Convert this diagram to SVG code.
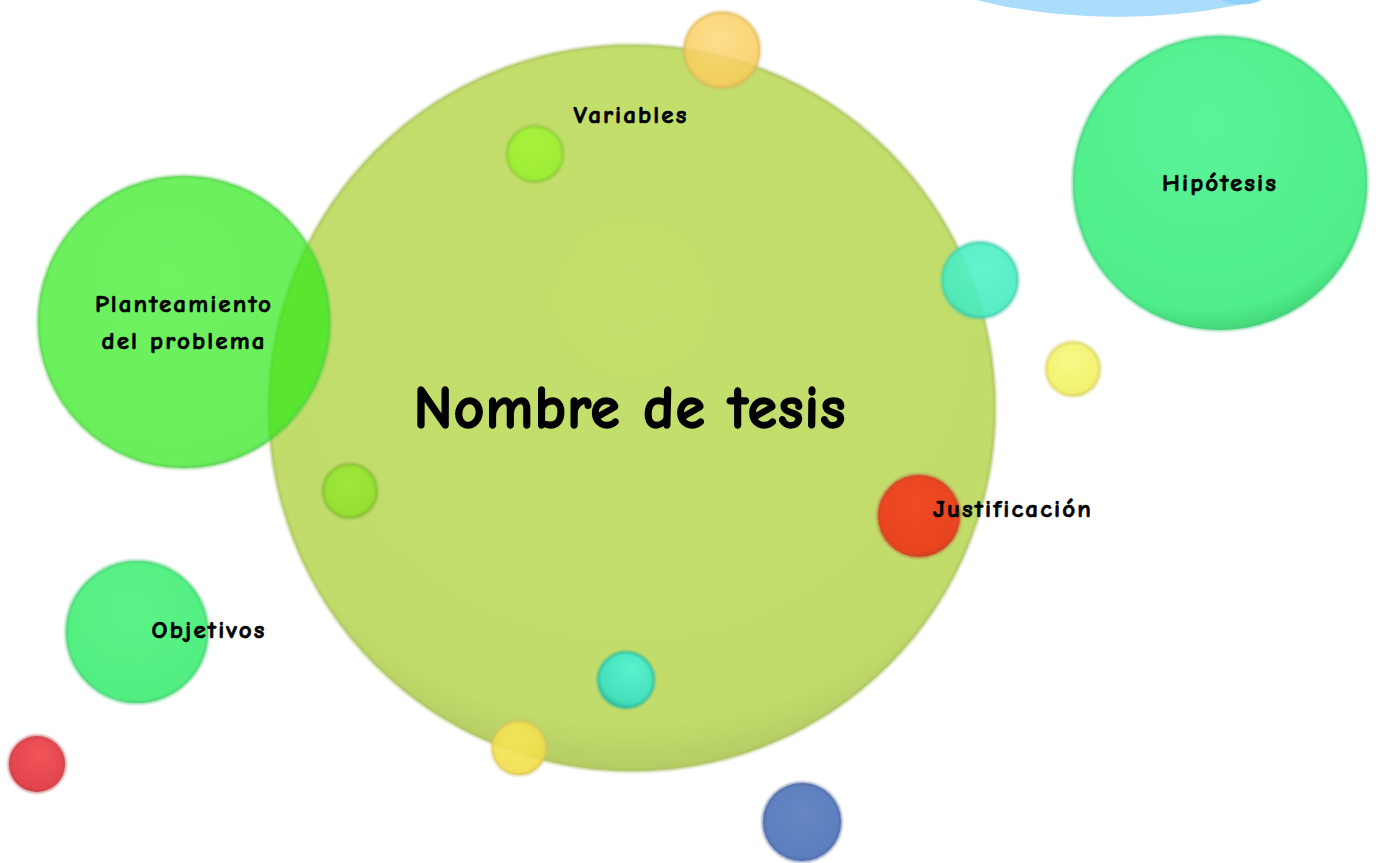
<svg xmlns="http://www.w3.org/2000/svg" width="1376" height="863" viewBox="0 0 1376 863">
<defs>
<style>
.lbl{font-family:"Comic Neue","DejaVu Sans",sans-serif;font-weight:bold;fill:#000;stroke:#000;text-anchor:middle}
.s{font-size:25px;letter-spacing:2.1px;stroke-width:0.7px}
.b{font-size:60px;letter-spacing:1px;stroke-width:1.4px}
.rim{fill:none;stroke-width:3;filter:url(#soft)}
</style>
<filter id="soft" x="-20%" y="-20%" width="140%" height="140%"><feGaussianBlur stdDeviation="1.2"/></filter>
<radialGradient id="gBig" cx="0.5" cy="0.35" r="0.65"><stop offset="0" stop-color="#c3df6c"/><stop offset="0.9" stop-color="#c1dc6a"/><stop offset="1" stop-color="#b4cc64"/></radialGradient>
<radialGradient id="gHip" cx="0.45" cy="0.3" r="0.7"><stop offset="0" stop-color="#5af498"/><stop offset="0.9" stop-color="#50ee8a"/><stop offset="1" stop-color="#45d97a"/></radialGradient>
<radialGradient id="gPl" cx="0.45" cy="0.35" r="0.7"><stop offset="0" stop-color="#33ec1e"/><stop offset="0.9" stop-color="#2be816"/><stop offset="1" stop-color="#28c818"/></radialGradient>
<radialGradient id="gObj" cx="0.45" cy="0.35" r="0.7"><stop offset="0" stop-color="#5cf488"/><stop offset="0.9" stop-color="#52ee80"/><stop offset="1" stop-color="#46d870"/></radialGradient>
<radialGradient id="gOr" cx="0.45" cy="0.35" r="0.7"><stop offset="0" stop-color="#fcd878"/><stop offset="0.85" stop-color="#f8cc5a"/><stop offset="1" stop-color="#e0b850"/></radialGradient>
<radialGradient id="gLime" cx="0.45" cy="0.35" r="0.7"><stop offset="0" stop-color="#a8f23e"/><stop offset="0.85" stop-color="#9eec36"/><stop offset="1" stop-color="#88d030"/></radialGradient>
<radialGradient id="gLime2" cx="0.45" cy="0.35" r="0.7"><stop offset="0" stop-color="#9ee83a"/><stop offset="0.85" stop-color="#94e032"/><stop offset="1" stop-color="#80c42c"/></radialGradient>
<radialGradient id="gCy" cx="0.55" cy="0.35" r="0.7"><stop offset="0" stop-color="#52f4c8"/><stop offset="0.85" stop-color="#46eabe"/><stop offset="1" stop-color="#38cca4"/></radialGradient>
<radialGradient id="gCy2" cx="0.6" cy="0.3" r="0.7"><stop offset="0" stop-color="#58f2cc"/><stop offset="0.85" stop-color="#44e0bc"/><stop offset="1" stop-color="#36c8a4"/></radialGradient>
<radialGradient id="gYel" cx="0.45" cy="0.35" r="0.7"><stop offset="0" stop-color="#f8f888"/><stop offset="0.85" stop-color="#f2f270"/><stop offset="1" stop-color="#dede60"/></radialGradient>
<radialGradient id="gYel2" cx="0.45" cy="0.35" r="0.7"><stop offset="0" stop-color="#f6e65a"/><stop offset="0.85" stop-color="#f0de48"/><stop offset="1" stop-color="#d8c840"/></radialGradient>
<radialGradient id="gRed" cx="0.45" cy="0.35" r="0.7"><stop offset="0" stop-color="#ee4a24"/><stop offset="0.85" stop-color="#e8441e"/><stop offset="1" stop-color="#c8381a"/></radialGradient>
<radialGradient id="gRed2" cx="0.55" cy="0.35" r="0.7"><stop offset="0" stop-color="#f05458"/><stop offset="0.85" stop-color="#e2444c"/><stop offset="1" stop-color="#c03a40"/></radialGradient>
<radialGradient id="gBlue" cx="0.5" cy="0.4" r="0.7"><stop offset="0" stop-color="#6686c4"/><stop offset="0.85" stop-color="#5c7ebe"/><stop offset="1" stop-color="#4a68a4"/></radialGradient>
</defs>
<rect width="1376" height="863" fill="#ffffff"/>

<g id="sky">
<circle cx="1118" cy="-585" r="602" fill="#a9ddfb"/>
<path d="M1222,0 Q1242,9 1262,0 Z" fill="#8fd1fa"/>
</g>

<g id="nombre">
<circle cx="632" cy="408" r="363" fill="url(#gBig)"/>
<circle cx="632" cy="408" r="363" class="rim" stroke="#a9bf60" stroke-opacity="0.7"/>
<text class="lbl b" x="630" y="428">Nombre de tesis</text>
</g>

<g id="orange-top">
<circle cx="722" cy="50" r="38" fill="url(#gOr)" fill-opacity="0.85"/>
<circle cx="722" cy="50" r="38" class="rim" stroke="#d8b45a" stroke-opacity="0.6"/>
</g>

<g id="variables">
<circle cx="535" cy="154" r="28" fill="url(#gLime)"/>
<circle cx="535" cy="154" r="28" class="rim" stroke="#8cc83a" stroke-opacity="0.7"/>
<text class="lbl s" x="631" y="123">Variables</text>
</g>

<g id="planteamiento">
<circle cx="184" cy="322" r="146" fill="url(#gPl)" fill-opacity="0.7"/>
<circle cx="184" cy="322" r="146" class="rim" stroke="#58c850" stroke-opacity="0.6"/>
<text class="lbl s" x="184" y="312">Planteamiento</text>
<text class="lbl s" x="184" y="349">del problema</text>
</g>

<g id="hipotesis">
<circle cx="1220" cy="183" r="147" fill="url(#gHip)"/>
<circle cx="1220" cy="183" r="147" class="rim" stroke="#48c880" stroke-opacity="0.6"/>
<text class="lbl s" x="1220" y="191">Hipótesis</text>
</g>

<g id="cyan-right">
<circle cx="980" cy="280" r="38" fill="url(#gCy)" fill-opacity="0.9"/>
<circle cx="980" cy="280" r="38" class="rim" stroke="#3cc8a8" stroke-opacity="0.6"/>
</g>

<g id="yellow-right">
<circle cx="1073" cy="369" r="27" fill="url(#gYel)"/>
<circle cx="1073" cy="369" r="27" class="rim" stroke="#d8d468" stroke-opacity="0.7"/>
</g>

<g id="lime-left">
<circle cx="350" cy="491" r="27" fill="url(#gLime2)"/>
<circle cx="350" cy="491" r="27" class="rim" stroke="#84b838" stroke-opacity="0.7"/>
</g>

<g id="justificacion">
<circle cx="919" cy="516" r="41" fill="url(#gRed)"/>
<circle cx="919" cy="516" r="41" class="rim" stroke="#c05030" stroke-opacity="0.6"/>
<text class="lbl s" x="1013" y="517">Justificación</text>
</g>

<g id="objetivos">
<circle cx="137" cy="632" r="71" fill="url(#gObj)"/>
<circle cx="137" cy="632" r="71" class="rim" stroke="#48c878" stroke-opacity="0.6"/>
<text class="lbl s" x="209" y="638">Objetivos</text>
</g>

<g id="cyan-bottom">
<circle cx="626" cy="680" r="28" fill="url(#gCy2)"/>
<circle cx="626" cy="680" r="28" class="rim" stroke="#30b898" stroke-opacity="0.7"/>
</g>

<g id="yellow-bottom">
<circle cx="519" cy="748" r="27" fill="url(#gYel2)" fill-opacity="0.9"/>
<circle cx="519" cy="748" r="27" class="rim" stroke="#d8c060" stroke-opacity="0.6"/>
</g>

<g id="red-bottom-left">
<circle cx="37" cy="764" r="28" fill="url(#gRed2)"/>
<circle cx="37" cy="764" r="28" class="rim" stroke="#c04850" stroke-opacity="0.6"/>
</g>

<g id="blue-bottom">
<circle cx="802" cy="822" r="39" fill="url(#gBlue)"/>
<circle cx="802" cy="822" r="39" class="rim" stroke="#4a6098" stroke-opacity="0.6"/>
</g>

<g id="connectors"/>
</svg>
